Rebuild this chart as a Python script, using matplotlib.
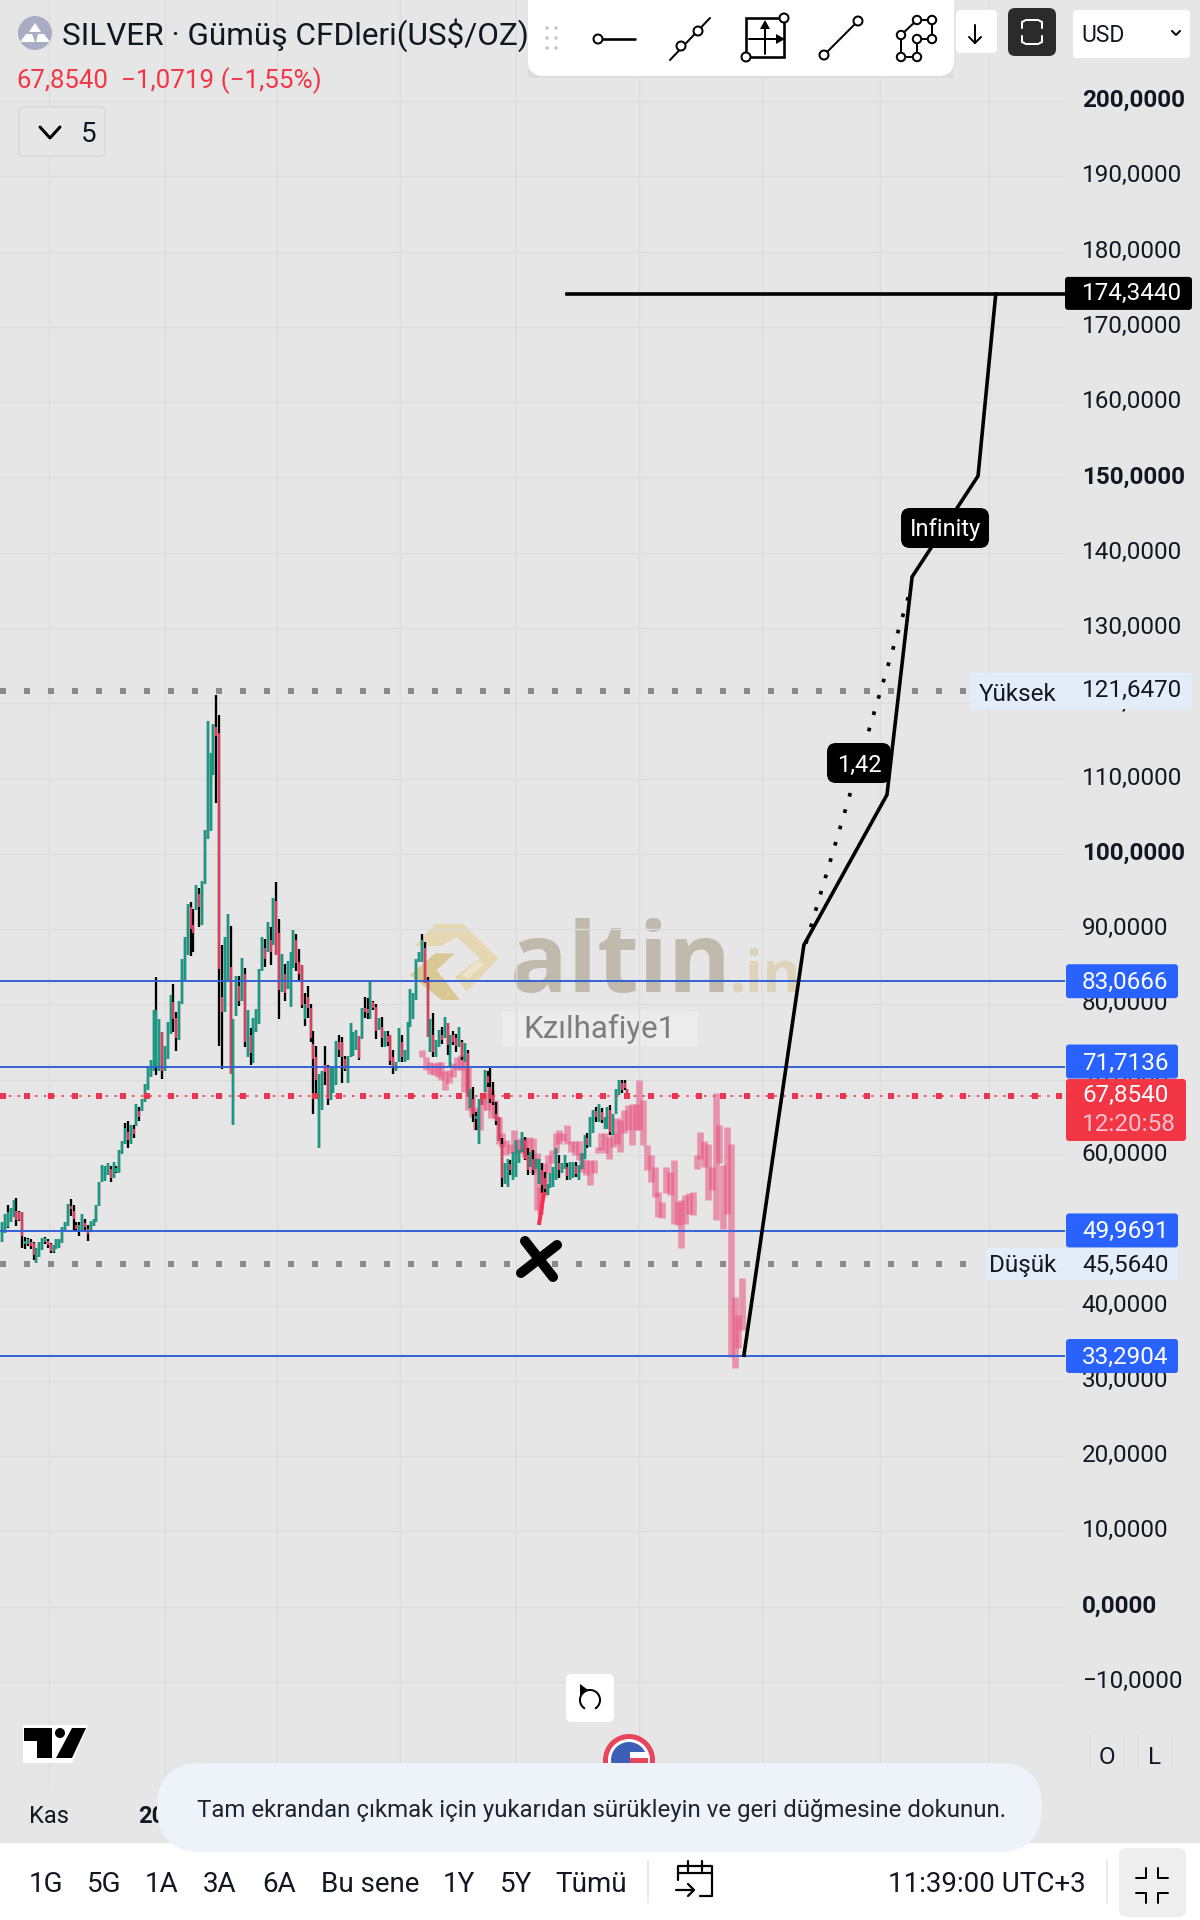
import matplotlib
matplotlib.use("Agg")
import numpy as np
import matplotlib.pyplot as plt
from matplotlib.patches import FancyBboxPatch, Circle, Polygon, Rectangle, Arc
from matplotlib.markers import MarkerStyle
from matplotlib.transforms import Affine2D

plt.rcParams['font.family'] = ['Roboto', 'DejaVu Sans']

# ---------- candle data (price, one entry per bar) ----------
highs = [
 51.1,52.2,53.3,53.0,54.0,54.3,52.5,52.4,49.1,49.0,
 48.8,48.5,47.7,48.5,49.0,49.1,48.9,48.3,48.1,48.8,
 48.8,50.5,51.1,53.5,54.1,53.3,51.1,51.1,52.2,51.5,
 50.7,51.2,51.5,53.3,56.4,58.7,58.6,58.9,58.5,59.1,
 58.5,60.7,61.9,64.3,64.5,64.0,64.0,66.8,66.4,67.4,
 69.4,71.7,72.6,79.2,83.7,78.0,76.3,74.5,77.7,81.3,
 82.7,79.0,80.5,86.0,89.0,93.4,93.6,92.7,95.8,95.4,
 96.4,103.2,117.7,113.4,117.3,121.1,118.4,87.9,89.0,92.0,
 90.4,78.0,83.8,83.8,86.2,84.8,79.2,76.9,78.2,79.4,
 84.7,89.0,88.7,91.0,90.3,94.1,96.3,91.3,86.7,85.4,
 85.8,86.9,89.9,89.4,87.4,85.3,81.5,82.4,80.1,76.5,
 74.5,70.8,71.1,74.5,71.9,71.6,71.6,75.2,75.9,75.7,
 73.2,73.2,77.5,76.3,76.6,75.8,79.5,81.0,80.8,83.1,
 80.5,80.1,78.2,78.3,76.5,76.5,75.9,74.0,72.4,76.9,
 75.9,73.9,77.7,82.0,81.5,86.1,87.0,89.3,88.3,83.7,
 78.1,78.8,75.3,76.6,77.0,78.3,77.5,75.9,76.5,76.1,
 77.0,75.3,74.9,73.9,68.8,69.0,65.7,67.4,68.2,71.3,
 71.2,71.6,69.7,67.0,65.0,62.2,58.9,59.5,59.4,60.4,
 62.0,60.6,63.1,62.4,60.9,60.4,60.7,59.5,59.5,59.0,
 57.8,56.2,57.6,58.4,60.9,60.0,58.9,60.0,58.9,59.1,
 59.1,59.1,58.7,60.2,62.6,62.9,65.0,66.0,66.4,66.8,
 66.2,65.0,66.4,66.6,65.5,68.8,69.9,69.9,69.9,68.8]
lows = [
 48.5,49.6,50.3,51.1,51.7,50.6,51.2,47.7,47.5,47.9,
 47.5,46.1,45.6,46.4,47.4,48.2,47.7,47.0,47.0,47.5,
 47.7,48.3,50.1,50.6,51.9,50.1,49.8,49.3,50.1,50.1,
 48.6,49.8,50.6,51.1,53.2,56.4,56.6,57.4,56.4,56.9,
 57.6,57.6,60.1,61.4,60.9,61.5,62.2,63.8,64.5,65.9,
 67.1,68.7,70.3,71.1,70.6,71.1,70.1,71.1,72.7,76.1,
 76.3,73.8,75.3,80.0,83.2,86.6,86.4,86.9,92.6,90.3,
 90.5,96.0,102.0,103.1,110.5,106.8,74.5,71.4,79.0,83.2,
 70.8,64.0,78.4,79.8,80.5,74.3,73.0,71.9,72.2,76.4,
 77.4,84.5,85.0,86.9,85.3,87.9,86.6,78.0,81.6,80.5,
 82.1,79.7,84.8,84.5,83.1,79.5,77.1,78.2,75.0,65.4,
 67.9,60.9,66.0,69.3,66.6,67.3,68.2,69.3,73.0,69.5,
 71.1,69.6,73.0,73.2,74.0,72.6,75.4,78.2,78.0,78.0,
 79.2,75.4,76.6,74.3,74.3,74.5,71.9,70.8,71.1,72.3,
 72.4,72.4,72.6,77.0,78.1,80.6,85.7,85.7,82.8,75.7,
 73.7,73.0,73.0,74.4,74.8,75.5,73.3,71.7,74.6,73.7,
 74.4,72.6,72.4,67.7,66.2,64.4,63.3,61.5,66.6,68.4,
 69.0,66.9,66.6,64.0,61.8,55.8,56.2,55.8,57.3,56.7,
 57.1,58.9,60.4,59.3,57.3,58.4,57.3,58.2,56.2,54.9,
 55.0,54.7,55.6,55.8,56.7,56.9,57.6,58.2,56.7,56.7,
 56.9,57.1,56.7,58.2,59.5,60.9,61.1,62.9,64.4,64.4,
 64.2,63.5,63.5,62.6,62.6,65.5,68.0,68.3,68.6,67.7]
opens = [
 48.5,49.6,50.5,51.1,51.7,52.5,52.4,52.4,48.2,48.2,
 48.4,48.3,45.6,46.4,47.4,48.4,48.6,48.2,47.1,47.5,
 47.7,48.3,50.1,50.6,53.2,52.6,50.7,49.9,50.1,51.0,
 50.2,49.8,50.6,51.1,53.2,56.4,56.6,57.4,58.2,56.9,
 57.8,57.6,60.1,61.4,63.0,61.5,63.4,63.8,65.9,65.9,
 67.1,68.7,70.3,71.1,71.6,71.1,76.3,71.1,72.7,76.1,
 80.3,78.2,75.3,80.0,83.2,86.6,93.0,90.5,92.6,94.7,
 90.5,96.0,102.0,103.1,110.5,116.8,116.0,81.0,79.0,83.2,
 85.0,64.0,78.4,82.4,80.5,84.0,73.0,76.0,72.2,76.4,
 77.4,84.5,87.5,86.9,88.5,87.9,93.8,89.5,81.6,84.0,
 82.1,79.7,84.8,88.5,85.6,85.3,78.0,81.0,79.5,74.8,
 73.0,60.9,66.0,72.0,71.5,67.3,68.2,69.3,75.0,75.0,
 72.8,69.6,73.0,73.2,74.0,75.8,75.4,79.5,79.4,78.0,
 80.3,79.7,76.6,77.0,74.3,75.8,75.9,73.0,71.1,72.3,
 75.0,72.4,72.6,77.0,78.1,80.6,85.7,85.7,87.5,83.0,
 73.7,75.9,73.0,74.4,75.9,75.5,77.5,71.7,76.0,75.5,
 74.4,75.0,72.4,73.5,66.2,67.5,64.8,61.5,68.2,68.4,
 70.5,69.0,68.0,65.5,65.0,61.5,56.2,55.8,58.8,56.7,
 57.1,58.9,60.4,62.0,60.0,58.4,59.5,58.2,56.2,58.0,
 57.0,54.7,55.6,55.8,56.7,59.0,57.6,58.2,58.4,56.7,
 56.9,58.6,56.7,58.2,59.5,62.3,61.1,62.9,65.8,64.4,
 65.7,63.5,63.5,66.0,62.6,65.5,68.0,69.5,69.5,68.8]
closes = [
 51.1,52.2,52.4,53.0,54.0,51.3,51.4,49.3,48.6,48.8,
 47.9,46.7,47.7,48.5,49.0,49.0,48.0,47.2,48.0,48.8,
 48.8,50.5,51.1,53.5,52.8,51.5,50.2,50.7,52.2,50.5,
 49.5,51.2,51.5,53.3,56.4,58.7,58.6,58.9,57.0,59.1,
 58.3,60.7,61.9,63.6,62.0,64.0,62.8,66.8,65.0,67.4,
 69.4,71.7,72.6,79.2,79.2,78.0,71.2,74.5,77.7,81.3,
 78.0,75.5,80.5,86.0,89.0,93.4,90.0,89.5,95.8,92.9,
 96.4,103.2,117.7,113.4,117.3,115.7,84.7,79.0,89.0,92.0,
 70.8,78.0,83.8,80.5,86.2,75.0,79.2,73.5,78.2,79.4,
 84.7,89.0,86.0,91.0,87.0,94.1,86.6,81.9,86.7,81.5,
 85.8,86.9,89.9,85.5,84.0,79.9,80.0,79.5,75.5,72.7,
 70.0,70.8,71.1,71.0,67.5,71.6,71.6,75.2,74.0,73.0,
 71.4,73.2,77.5,76.3,76.6,72.9,79.5,79.0,78.8,83.1,
 79.5,76.5,78.2,75.5,76.5,75.0,72.5,71.8,72.4,76.9,
 73.0,73.9,77.7,82.0,81.5,86.1,87.0,88.5,82.8,75.7,
 78.1,73.7,75.3,76.6,75.3,78.3,74.6,75.9,75.0,74.5,
 77.0,73.0,74.9,67.7,68.8,65.5,65.2,67.4,66.6,71.3,
 69.5,67.5,67.0,64.5,61.8,57.0,58.9,59.5,58.0,60.4,
 62.0,60.6,63.1,59.5,58.0,60.4,58.0,59.5,59.5,56.0,
 55.5,56.2,57.6,58.4,60.9,58.0,58.9,60.0,57.2,59.1,
 59.1,57.5,58.7,60.2,62.6,61.3,65.0,66.0,65.0,66.8,
 64.7,65.0,66.4,63.0,65.5,68.8,69.9,68.7,68.9,67.85]

# ---------- pink "bars pattern" projection ----------
ghost_highs = [
 73.9,73.0,72.4,72.2,72.4,72.4,71.1,71.3,72.2,73.0,
 73.3,72.6,71.7,67.7,66.4,66.0,68.2,69.1,68.6,67.3,
 65.1,62.9,62.0,61.5,63.3,62.0,62.2,62.2,62.4,62.2,
 60.2,55.8,58.9,60.0,60.7,62.9,63.3,62.9,64.0,61.8,
 61.8,61.8,60.2,59.3,59.3,59.3,61.1,62.9,62.9,62.4,
 62.9,64.9,64.6,66.0,66.6,66.8,66.8,70.0,67.3,61.3,
 60.0,58.4,55.1,53.8,58.4,57.8,59.4,53.8,54.0,54.7,
 54.9,55.1,60.0,63.1,61.8,61.5,58.4,68.2,64.0,58.7,
 63.7,61.5,41.2,38.7,43.6]
ghost_lows = [
 73.0,71.3,70.8,70.6,70.4,70.0,68.6,69.5,70.4,71.3,
 71.3,68.4,66.0,65.1,63.3,63.3,66.0,66.0,64.9,64.9,
 61.5,61.1,60.0,60.2,60.2,60.2,60.2,59.8,59.3,57.6,
 52.7,52.2,54.5,57.6,58.9,60.2,61.5,61.8,61.5,60.4,
 60.0,59.3,57.8,57.3,56.0,57.6,60.2,60.7,60.2,59.5,
 61.1,61.5,60.4,62.9,63.3,61.3,63.3,63.3,61.3,58.0,
 56.4,54.4,51.8,51.6,54.9,54.7,50.9,50.7,47.6,50.9,
 52.2,52.0,58.2,59.5,58.4,54.0,55.3,51.4,58.9,50.2,
 52.2,33.2,31.7,34.3,36.7]

# ---------- drawings ----------
path_bars = [259.8, 280.8, 309.9, 318.7, 341.8, 348.0]
path_prices = [33.4, 87.9, 107.85, 136.8, 150.2, 174.344]
dotted_bars = [281.5, 318.3]
dotted_prices = [88.1, 135.3]
target_bars = [197.8, 372.3]
target_price = 174.344
red_leg_bars = [188.0, 189.8]
red_leg_prices = [50.7, 55.1]
cross_bar = 188.0
cross_price = 46.2
blue_levels = [83.0666, 71.7136, 49.9691, 33.2904]
blue_labels = ['83,0666', '71,7136', '49,9691', '33,2904']
high_level = 121.647
low_level = 45.564
last_price = 67.854

y_tick_values = list(range(-10, 210, 10))
y_tick_labels = [('\u2212' if v < 0 else '') + f'{abs(v)},0000' for v in y_tick_values]
bold_ticks = {0, 100, 150, 200}
x_tick_bars = [16.4, 57.0, 96.3, 139.3, 179.8, 223.0, 266.1, 307.5, 345.7]
x_tick_labels = ['Kas', '2026', '', '', '', '', '', '', '']
range_tabs = ['1G', '5G', '1A', '3A', '6A', 'Bu sene', '1Y', '5Y', 'Tümü']
range_tab_x = [46, 104, 162, 220, 279, 370, 459, 516, 591]

BG = '#e6e6e6'
GRID = '#dcdcdc'
GREEN = '#159b85'
RED = '#dc3f5e'
BLUE_LINE = '#2f5fd6'
BLUE_BOX = '#2962ff'
ALERT = '#f23645'
INK = '#131722'
px = 0.72  # points per pixel at dpi 100

fig = plt.figure(figsize=(12, 19.2), dpi=100, facecolor=BG)

# background layer (watermark), in pixel coordinates
bg = fig.add_axes([0, 0, 1, 1], zorder=0)
bg.set_xlim(0, 1200); bg.set_ylim(1920, 0); bg.axis('off')

def wm(pts, color):
    bg.add_patch(Polygon([(400 + a / 3, 920 + b / 3) for a, b in pts], closed=True, fc=color, ec='none'))
wm([(45,78),(105,12),(190,12),(295,115),(200,215),(165,170),(240,115),(170,50),(125,78)], '#e4d7b2')
wm([(30,165),(105,100),(165,100),(110,150),(180,240),(125,240)], '#d9c896')
wm([(185,165),(235,120),(250,135),(205,175)], '#ece3cb')
bg.text(510, 992, 'altin', fontsize=69, family='Open Sans', fontweight='bold', color='#c0baac', va='baseline', ha='left')
bg.text(730, 992, '.in', fontsize=41, family='Open Sans', fontweight='bold', color='#dcd3b8', va='baseline', ha='left')
bg.add_patch(FancyBboxPatch((502, 1011), 196, 35, boxstyle='round,pad=0,rounding_size=3', fc='#ececec', ec='none'))
bg.text(599, 1029, 'Kzılhafiye1', fontsize=22.5, color='#7d7d7d', ha='center', va='center')

# price chart
ax = fig.add_axes([0, (1920 - 1787) / 1920, 1065 / 1200, 1787 / 1920], zorder=1)
ax.patch.set_alpha(0)
ax.set_xlim(-0.77, 372.26)
ax.set_ylim(-23.95, 213.42)
for s in ax.spines.values():
    s.set_visible(False)
ax.set_yticks(y_tick_values, y_tick_labels)
ax.set_xticks(x_tick_bars, x_tick_labels)
ax.yaxis.tick_right()
ax.tick_params(axis='y', length=0, pad=12, labelsize=17.5, labelcolor=INK)
ax.tick_params(axis='x', length=0, pad=13, labelsize=17, labelcolor=INK)
for lab, v in zip(ax.get_yticklabels(), y_tick_values):
    lab.set_transform(lab.get_transform() + Affine2D().translate(0, 3))
    if v in bold_ticks:
        lab.set_fontweight('bold')
ax.get_xticklabels()[1].set_fontweight('bold')
ax.grid(True, color=GRID, lw=1.4 * px, zorder=0)
ax.set_axisbelow(True)

# pink projection
gk = np.linspace(147.2, 259.2, len(ghost_highs))
ax.vlines(gk, ghost_lows, ghost_highs, color='#e8527f', alpha=0.56, lw=6.6 * px, zorder=3, capstyle='butt')

# candles
bars = np.arange(len(highs))
ax.vlines(bars, lows, highs, color='black', lw=2.3 * px, zorder=4, capstyle='butt')
colors = [GREEN if c >= o else RED for o, c in zip(opens, closes)]
ax.vlines(bars, opens, closes, color=colors, lw=2.3 * px, zorder=5, capstyle='butt')
ax.plot(red_leg_bars, red_leg_prices, color='#f5304f', lw=4 * px, zorder=5, solid_capstyle='butt')

# horizontal levels
for lv in blue_levels:
    ax.axhline(lv, color=BLUE_LINE, lw=1.9 * px, zorder=6)
for lv, xmax_bar in ((high_level, 338.0), (low_level, 338.0)):
    ax.plot([-0.77, xmax_bar], [lv, lv], color='#8a8a8a', lw=6 * px, dashes=(1, 3),
            dash_capstyle='butt', zorder=6)
ax.plot([-0.77, 372.26], [last_price, last_price], color=ALERT, lw=1.6 * px, dashes=(1.5, 4),
        dash_capstyle='butt', zorder=6)
ax.plot([-0.77, 372.26], [last_price, last_price], color='#e8364f', lw=6 * px, dashes=(1, 3),
        dash_capstyle='butt', zorder=6)

# user drawings
ax.plot(path_bars, path_prices, color='black', lw=3.6 * px, zorder=7, solid_joinstyle='miter')
ax.plot(dotted_bars, dotted_prices, color='black', lw=3.7 * px, dashes=(1, 3.6), dash_capstyle='butt', zorder=7)
ax.plot(target_bars, [target_price, target_price], color='black', lw=3.6 * px, zorder=7)
mk = MarkerStyle('x', capstyle='round', transform=Affine2D().rotate_deg(-6))
ax.plot([cross_bar], [cross_price], marker=mk, ms=32 * px, mew=10 * px, color='black', ls='none', zorder=8)

# interface layer, in pixel coordinates
ui = fig.add_axes([0, 0, 1, 1], zorder=5)
ui.set_xlim(0, 1200); ui.set_ylim(1920, 0); ui.axis('off'); ui.patch.set_alpha(0)

def box(x0, y0, x1, y1, fc, r=4, ec='none', lw=0, z=2):
    ui.add_patch(FancyBboxPatch((x0, y0), x1 - x0, y1 - y0, boxstyle=f'round,pad=0,rounding_size={r}',
                                fc=fc, ec=ec, lw=lw, zorder=z, mutation_aspect=1))
def txt(x, y, s, size=17.5, color=INK, ha='left', weight='normal', z=4):
    ui.text(x, y, s, fontsize=size, color=color, ha=ha, va='center_baseline', fontweight=weight, zorder=z)
def seg(xs, ys, color='black', lw=2, z=4):
    ui.plot(xs, ys, color=color, lw=lw * px, zorder=z, solid_capstyle='round')
def node(x, y, r=5.5, z=5):
    ui.add_patch(Circle((x, y), r, fc='white', ec='black', lw=2 * px, zorder=z))

# price labels
for lab, lv in zip(blue_labels, blue_levels):
    yc = 853.7 + (100 - lv) * 7.53
    if lab == '71,7136':
        yc = 1061.5  # pushed up by the last-price label in the reference
    box(1066, yc - 17, 1178, yc + 17, BLUE_BOX, r=3)
    txt(1082, yc - 1, lab, color='white')
yc = 853.7 + (100 - target_price) * 7.53
box(1065, yc - 17, 1192, yc + 16, 'black', r=3)
txt(1082, yc - 3, '174,3440', color='white')
box(970, 673, 1192, 709, '#e3edfa', r=2)
txt(979, 692, 'Yüksek', size=17.5)
txt(1082, 688, '121,6470')
box(986, 1248, 1178, 1280, '#e3edfa', r=2)
txt(989, 1263, 'Düşük', size=17.5)
txt(1082, 1263, '45,5640')
box(1066, 1079, 1186, 1141, ALERT, r=3, z=3)
txt(1082, 1093, '67,8540', color='white')
txt(1082, 1122, '12:20:58', color='#fbc4cb')
box(901, 508, 989, 548, 'black', r=9)
txt(945, 527, 'Infinity', size=17, color='white', ha='center')
box(827, 743, 891, 783, 'black', r=9)
txt(859, 763, '1,42', size=17, color='white', ha='center')

# header
ui.add_patch(Circle((35, 33), 17, fc='#a9adc4', ec='none', zorder=2))
ui.add_patch(Polygon([(35, 23), (41, 32), (29, 32)], fc='white', ec='none', zorder=3))
ui.add_patch(Polygon([(26, 34), (32, 34), (35, 42), (20, 42)], fc='white', ec='none', zorder=3))
ui.add_patch(Polygon([(38, 34), (44, 34), (50, 42), (36, 42)], fc='white', ec='none', zorder=3))
txt(62, 31, 'SILVER · Gümüş CFDleri(US$/OZ)', size=22.7, z=2)
txt(16, 78, '67,8540', size=18.5, color=ALERT, z=2)
txt(121, 78, '\u22121,0719 (\u22121,55%)', size=18.7, color=ALERT, z=2)
box(19, 107, 105, 156, BG, r=4, ec='#d8d8d8', lw=1)
seg([40, 50, 60], [127, 138, 127], lw=3)
txt(81, 131, '5', size=20)

# drawing toolbar
box(528, -20, 954, 76, 'white', r=16, z=3)
ui.add_patch(Rectangle((528, 70), 426, 8, fc='#d5d5d5', ec='none', zorder=2, alpha=0.5))
for dx in (547, 556):
    for dy in (28, 38, 48):
        ui.add_patch(Circle((dx, dy), 1.8, fc='#c8c8c8', ec='none', zorder=4))
seg([598, 635], [39, 39], lw=2.6); node(598, 39, r=4.5)
seg([670, 710], [60, 18]); node(681, 46, r=4.5); node(698, 31, r=4.5)
ui.add_patch(Rectangle((746, 18), 38, 39, fc='white', ec='black', lw=2.6 * px, zorder=4))
seg([765, 765], [24, 54]); seg([749, 782], [39, 39])
ui.add_patch(Polygon([(765, 20), (760, 29), (770, 29)], fc='black', ec='none', zorder=5))
ui.add_patch(Polygon([(785, 39), (776, 34), (776, 44)], fc='black', ec='none', zorder=5))
node(784, 18, r=4.5); node(746, 57, r=4.5)
seg([824, 858], [55, 21]); node(824, 55, r=4.5); node(858, 21, r=4.5)
net_x = [901, 917, 917, 932, 932, 917]
net_y = [57, 57, 39, 39, 20, 20]
seg(net_x, net_y)
seg([917, 901, 901], [20, 35, 57])
for a, b in zip(net_x, net_y):
    node(a, b, r=4.2)
node(901, 35, r=4.2)
box(956, 10, 997, 53, 'white', r=5)
seg([975, 975], [25, 43]); seg([969, 975, 981], [37, 43, 37])
box(1008, 8, 1056, 56, '#2b2b2b', r=7)
for sy in (1, -1):
    seg([1022, 1022, 1026, 1038, 1042, 1042],
        [32 + 4 * sy, 32 + 10 * sy, 32 + 12 * sy, 32 + 12 * sy, 32 + 10 * sy, 32 + 4 * sy], color='white', lw=2)
box(1073, 10, 1190, 58, 'white', r=4)
txt(1081, 33, 'USD', size=16.5)
seg([1172, 1176, 1180], [31, 35, 31], lw=2)

# floating buttons and logo
box(566, 1674, 614, 1722, 'white', r=6)
ui.add_patch(Arc((590, 1700), 20, 20, theta1=-240, theta2=60, color='black', lw=2 * px, zorder=4))
ui.add_patch(Polygon([(580, 1684), (588, 1690), (580, 1696)], fc='black', ec='none', zorder=5))
ui.add_patch(Polygon([(23, 1725), (88, 1725), (72, 1763), (23, 1763)], fc='white', ec='none', zorder=2))
ui.add_patch(Polygon([(24, 1728), (52, 1728), (52, 1758), (37, 1758), (37, 1741), (24, 1741)], fc='black', ec='none', zorder=3))
ui.add_patch(Circle((60, 1733), 5, fc='black', ec='none', zorder=3))
ui.add_patch(Polygon([(72, 1728), (86, 1728), (72, 1758), (56, 1758)], fc='black', ec='none', zorder=3))
ui.add_patch(Circle((629, 1760), 26, fc='#e8445a', ec='none', zorder=2))
ui.add_patch(Circle((629, 1760), 21, fc='white', ec='none', zorder=2))
ui.add_patch(Circle((629, 1760), 18, fc='#3d5fb8', ec='none', zorder=2))
ui.add_patch(Rectangle((630, 1752), 18, 6, fc='white', ec='none', zorder=2))
ui.add_patch(Rectangle((630, 1758), 18, 8, fc='#e8445a', ec='none', zorder=2))
box(1090, 1732, 1124, 1776, BG, r=3, ec='#e2e2e2', lw=0.8)
box(1138, 1732, 1172, 1776, BG, r=3, ec='#e2e2e2', lw=0.8)
txt(1107, 1755, 'O', size=17.5, ha='center')
txt(1155, 1755, 'L', size=17.5, ha='center')

# bottom bar
ui.add_patch(Rectangle((0, 1843), 1200, 77, fc='white', ec='none', zorder=2))
box(157, 1763, 1042, 1852, '#eef2f9', r=44, z=3)
txt(197, 1808, 'Tam ekrandan çıkmak için yukarıdan sürükleyin ve geri düğmesine dokunun.', size=17.25, color='#1e2430', z=4)
for s, x in zip(range_tabs, range_tab_x):
    txt(x, 1881, s, size=20, ha='center')
seg([648, 648], [1860, 1903], color='#e4e4e4', lw=1.5)
seg([1107, 1107], [1860, 1903], color='#e4e4e4', lw=1.5)
seg([678, 678, 712, 712, 700], [1880, 1866, 1866, 1896, 1896], lw=2.2)
seg([678, 712], [1873, 1873], lw=2.2)
seg([688, 688], [1861, 1871], lw=2.2); seg([702, 702], [1861, 1871], lw=2.2)
seg([676, 694], [1890, 1890], lw=2.2); seg([688, 694, 688], [1884, 1890, 1896], lw=2.2)
txt(987, 1881, '11:39:00 UTC+3', size=20, ha='center')
box(1119, 1848, 1186, 1917, '#eeeeee', r=8)
seg([1136, 1146, 1146], [1878, 1878, 1868], lw=2)
seg([1168, 1158, 1158], [1878, 1878, 1868], lw=2)
seg([1136, 1146, 1146], [1893, 1893, 1903], lw=2)
seg([1168, 1158, 1158], [1893, 1893, 1903], lw=2)

fig.savefig('out.png', dpi=100, facecolor=BG)
